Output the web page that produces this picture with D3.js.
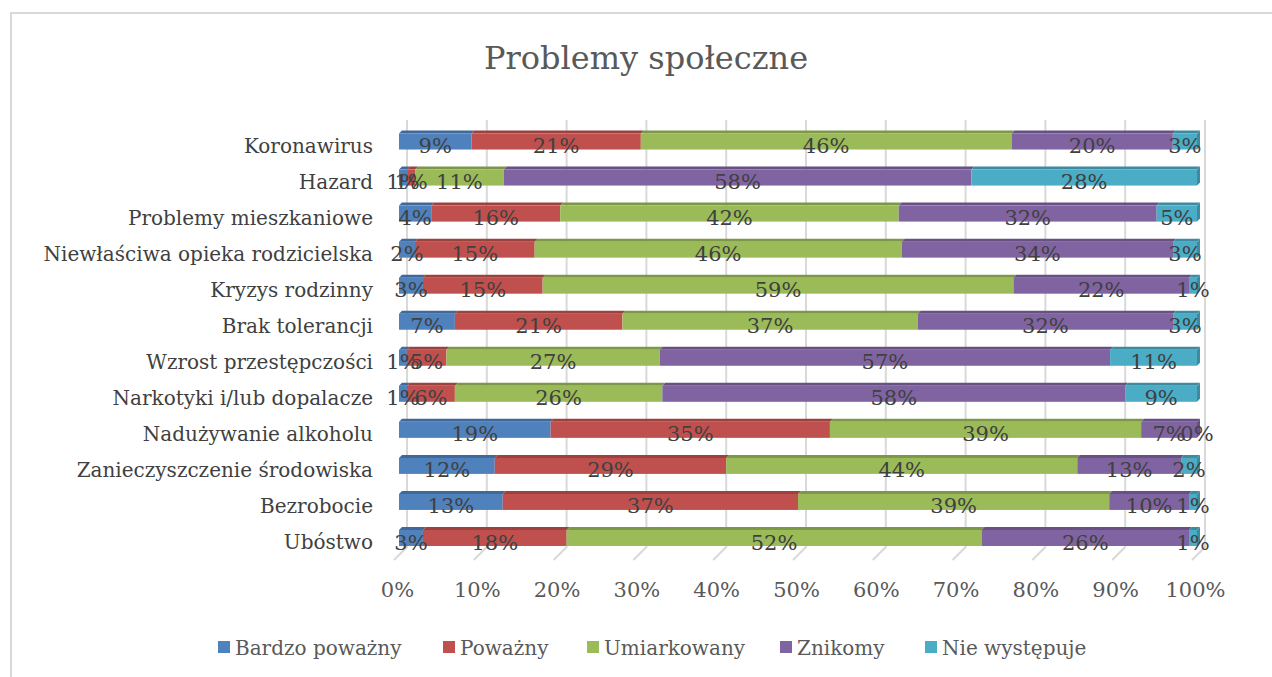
<!DOCTYPE html>
<html><head><meta charset="utf-8">
<script src="https://cdn.jsdelivr.net/npm/d3@7"></script>
<style>body{margin:0;background:#fff}svg{display:block}text{font-family:"DejaVu Serif",serif}</style>
</head><body><svg id="c" width="1272" height="677"></svg>
<script>
const categories = ["Koronawirus","Hazard","Problemy mieszkaniowe","Niewłaściwa opieka rodzicielska","Kryzys rodzinny","Brak tolerancji","Wzrost przestępczości","Narkotyki i/lub dopalacze","Nadużywanie alkoholu","Zanieczyszczenie środowiska","Bezrobocie","Ubóstwo"];
const seriesNames = ["Bardzo poważny","Poważny","Umiarkowany","Znikomy","Nie występuje"];
const bardzoPowazny = [9,1,4,2,3,7,1,1,19,12,13,3];
const powazny      = [21,1,16,15,15,21,5,6,35,29,37,18];
const umiarkowany  = [46,11,42,46,59,37,27,26,39,44,39,52];
const znikomy      = [20,58,32,34,22,32,57,58,7,13,10,26];
const nieWystepuje = [3,28,5,3,1,3,11,9,0,2,1,1];
const tickValues = [0,0.1,0.2,0.3,0.4,0.5,0.6,0.7,0.8,0.9,1];
const colors = ["#4F81BD","#C0504D","#9BBB59","#8064A2","#4BACC6"];

const seriesVals = [bardzoPowazny,powazny,umiarkowany,znikomy,nieWystepuje];
const rows = categories.map((c,i)=>{const o={cat:c}; seriesNames.forEach((s,j)=>o[s]=seriesVals[j][i]); return o;});
const stack = d3.stack().keys(seriesNames).offset(d3.stackOffsetExpand)(rows);

const svg = d3.select("#c");
svg.append("rect").attr("x",11).attr("y",13).attr("width",1300).attr("height",700)
  .attr("fill","none").attr("stroke","#d9d9d9").attr("stroke-width",2);

svg.append("text").attr("x",646).attr("y",69).attr("text-anchor","middle")
  .attr("font-size",32).attr("fill","#595959").text("Problemy społeczne");

const x = d3.scaleLinear().domain([0,1]).range([394,1192]);
const y = d3.scaleBand().domain(categories).range([123.5,556]).paddingInner(0.556).paddingOuter(0.278);
const BX = 5, D = 3, WX = 13, wallTop = 120, wallBot = 547, floorFront = 560;

// gridlines (back wall + floor)
const grid = svg.append("g").attr("stroke","#d9d9d9").attr("stroke-width",2).attr("fill","none");
tickValues.forEach(t=>{
  grid.append("path").attr("d",`M${x(t)+WX},${wallTop}L${x(t)+WX},${wallBot}L${x(t)},${floorFront}`);
});

// axis labels
const ax = svg.append("g").attr("transform","translate(3,597)");
const axis = d3.axisBottom(x).tickValues(tickValues).tickFormat(d3.format(".0%")).tickSize(0).tickPadding(0);
ax.call(axis);
ax.select(".domain").remove();
ax.selectAll("text").attr("font-size",21).attr("fill","#595959").attr("font-family","DejaVu Serif").attr("dy",0);

// category labels
const yl = svg.append("g").attr("transform","translate(373,0)");
yl.call(d3.axisLeft(y).tickSize(0).tickPadding(0));
yl.select(".domain").remove();
yl.selectAll("text").attr("font-size",20).attr("fill","#404040").attr("font-family","DejaVu Serif").attr("dy","0.32em")
  .attr("transform","translate(0,5)");

// bars
const bh = y.bandwidth();
stack.forEach((layer,j)=>{
  const g = svg.append("g");
  const top = d3.color(colors[j]).darker(0.6).formatHex();
  layer.forEach(d=>{
    const x0 = x(d[0])+BX, x1 = x(d[1])+BX, yy = y(d.data.cat);
    if (x1 - x0 <= 0) return;
    g.append("path").attr("d",`M${x0},${yy}L${x0+D},${yy-D}L${x1+D},${yy-D}L${x1},${yy}Z`).attr("fill",top);
    g.append("rect").attr("x",x0).attr("y",yy).attr("width",x1-x0).attr("height",bh).attr("fill",colors[j]);
    if (j===seriesNames.length-1 || d[1]>=0.9999) {
      g.append("path").attr("d",`M${x1},${yy}L${x1+D},${yy-D}L${x1+D},${yy+bh-D}L${x1},${yy+bh}Z`).attr("fill",top);
    }
  });
});

// data labels
stack.forEach((layer,j)=>{
  const g = svg.append("g");
  layer.forEach(d=>{
    const v = seriesVals[j][categories.indexOf(d.data.cat)];
    const cx = (x(d[0])+x(d[1]))/2 + BX, cy = y(d.data.cat)+bh/2+4;
    g.append("text").attr("x",cx).attr("y",cy).attr("dy","0.36em").attr("text-anchor","middle")
      .attr("font-size",21).attr("fill","#404040").text(v+"%");
  });
});

// legend
const legX = [218,443,587,780,925];
const lg = svg.append("g");
seriesNames.forEach((s,j)=>{
  lg.append("rect").attr("x",legX[j]).attr("y",641).attr("width",12).attr("height",12).attr("fill",colors[j]);
  lg.append("text").attr("x",legX[j]+17).attr("y",655).attr("font-size",20).attr("fill","#595959").text(s);
});
</script></body></html>
